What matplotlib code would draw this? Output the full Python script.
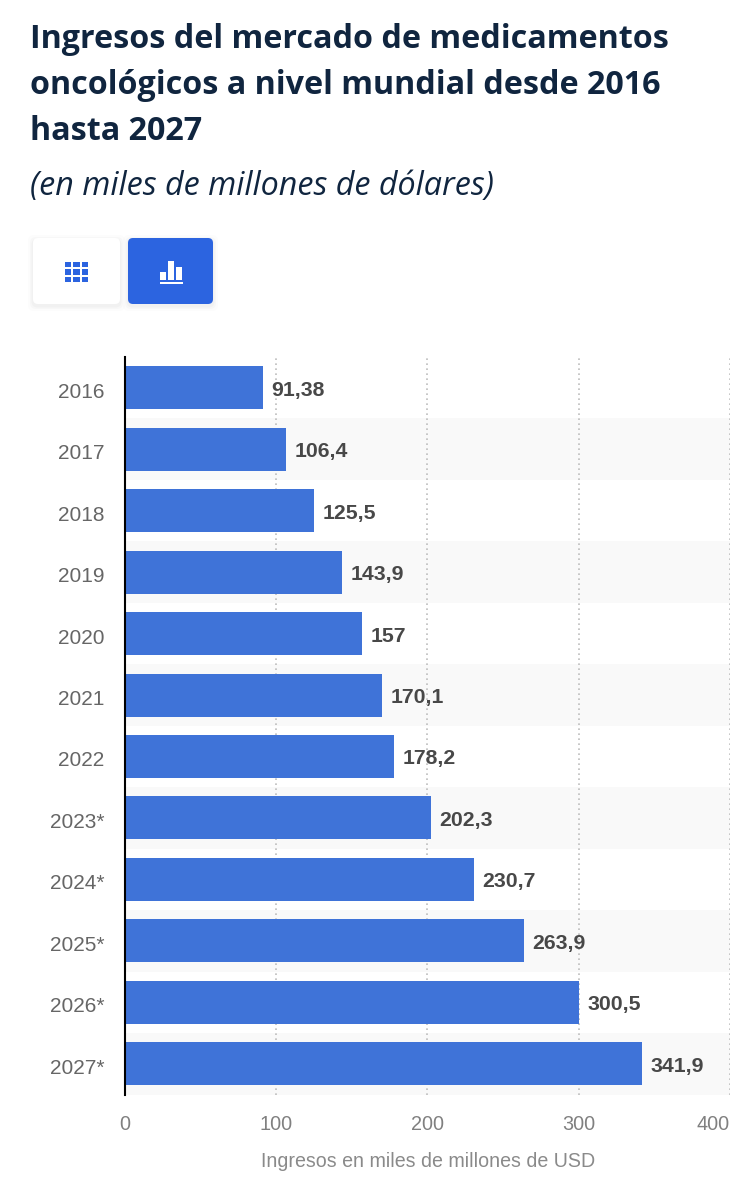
import matplotlib
matplotlib.use("Agg")
from matplotlib import pyplot as plt
from matplotlib.patches import FancyBboxPatch, Rectangle
from matplotlib.transforms import ScaledTranslation

# datos
years = ['2016', '2017', '2018', '2019', '2020', '2021', '2022',
         '2023*', '2024*', '2025*', '2026*', '2027*']
revenue = [91.38, 106.4, 125.5, 143.9, 157, 170.1, 178.2,
           202.3, 230.7, 263.9, 300.5, 341.9]
value_labels = ['91,38', '106,4', '125,5', '143,9', '157', '170,1', '178,2',
                '202,3', '230,7', '263,9', '300,5', '341,9']
x_ticks = [0, 100, 200, 300, 400]

W, H = 752, 1200
BLUE = '#3f73d8'
BTN_BLUE = '#2c64e0'
NAVY = '#10253f'
plt.rcParams['font.family'] = ['Liberation Sans', 'DejaVu Sans']

fig = plt.figure(figsize=(W / 100, H / 100), dpi=100, facecolor='white')

# capa en pixeles para titulo y botones
bg = fig.add_axes([0, 0, 1, 1])
bg.set_xlim(0, W)
bg.set_ylim(H, 0)
bg.axis('off')

title_lines = ['Ingresos del mercado de medicamentos',
               'oncológicos a nivel mundial desde 2016',
               'hasta 2027']
for i, line in enumerate(title_lines):
    bg.text(30, 40 + i * 45.5, line, family='Open Sans', fontweight='bold',
            fontsize=23.2, color=NAVY, va='center', ha='left')
bg.text(30, 186, '(en miles de millones de dólares)', family='Open Sans',
        style='italic', fontsize=23.2, color=NAVY, va='center', ha='left')

# botones
for off, alpha in [(5, 0.012), (3, 0.018), (1.5, 0.025)]:
    bg.add_patch(FancyBboxPatch((33 - off, 238 - off + 2), 87 + 2 * off, 66 + 2 * off,
                                boxstyle='round,pad=0,rounding_size=6', fc='black',
                                ec='none', alpha=alpha))
    bg.add_patch(FancyBboxPatch((128 - off, 238 - off + 2), 85 + 2 * off, 66 + 2 * off,
                                boxstyle='round,pad=0,rounding_size=6', fc='black',
                                ec='none', alpha=alpha))
bg.add_patch(FancyBboxPatch((33, 238), 87, 66, boxstyle='round,pad=0,rounding_size=5',
                            fc='white', ec='none'))
bg.add_patch(FancyBboxPatch((128, 238), 85, 66, boxstyle='round,pad=0,rounding_size=5',
                            fc=BTN_BLUE, ec='none'))
for cx in (64.7, 73, 81.5):
    for cy, ch in ((262, 5), (269, 5.5), (277, 4.7)):
        bg.add_patch(Rectangle((cx, cy), 6.6, ch, fc=BTN_BLUE, ec='none'))
for cx, top in ((160, 272), (167.8, 260.7), (175.7, 266.7)):
    bg.add_patch(Rectangle((cx, top), 6.2, 280 - top, fc='white', ec='none'))
bg.add_patch(Rectangle((159.5, 282), 23.5, 2, fc='white', ec='none'))

# grafico
L, R, T, B = 124.5, 730, 357, 1094.5
ax = fig.add_axes([L / W, 1 - B / H, (R - L) / W, (B - T) / H])
ax.patch.set_alpha(0)
ys = list(range(len(years)))
for y in ys:
    if y % 2 == 1:
        ax.axhspan(y - 0.5, y + 0.5, color='#f9f9f9', lw=0, zorder=0)
ax.barh(ys, revenue, height=0.7, color=BLUE, zorder=3)
for y, v, lab in zip(ys, revenue, value_labels):
    ax.annotate(lab, (v, y), xytext=(6.2, -1.8), textcoords='offset points', va='center',
                ha='left', fontsize=15.3, fontweight='bold', color='#484848', zorder=4)

ax.set_xlim(0, 400)
ax.set_ylim(len(years) - 0.5, -0.5)
ax.set_yticks(ys, years)
ax.set_xticks(x_ticks)
ax.tick_params(axis='y', length=0, pad=14.4, labelsize=15, labelcolor='#666666')
ax.tick_params(axis='x', length=0, pad=14.5, labelsize=14.3, labelcolor='#808080')
ax.get_xticklabels()[-1].set_ha('right')
# las etiquetas de los anos van un poco mas abajo que el centro de la barra
shift = ScaledTranslation(0, -2.5 / 100, fig.dpi_scale_trans)
for lab in ax.get_yticklabels():
    lab.set_transform(lab.get_transform() + shift)
ax.grid(True, axis='x', color='#bdbdbd', linestyle=(0, (1, 2)), lw=1.2, zorder=1)
ax.set_axisbelow(True)
for side in ('top', 'right', 'bottom'):
    ax.spines[side].set_visible(False)
ax.spines['left'].set_color('black')
ax.spines['left'].set_linewidth(1.5)
ax.spines['left'].set_zorder(5)
ax.set_xlabel('Ingresos en miles de millones de USD', fontsize=14.1, color='#8a8a8a')
ax.xaxis.set_label_coords((428 - L) / (R - L), -(1152 - B) / (B - T))

fig.savefig('out.png', dpi=100)
